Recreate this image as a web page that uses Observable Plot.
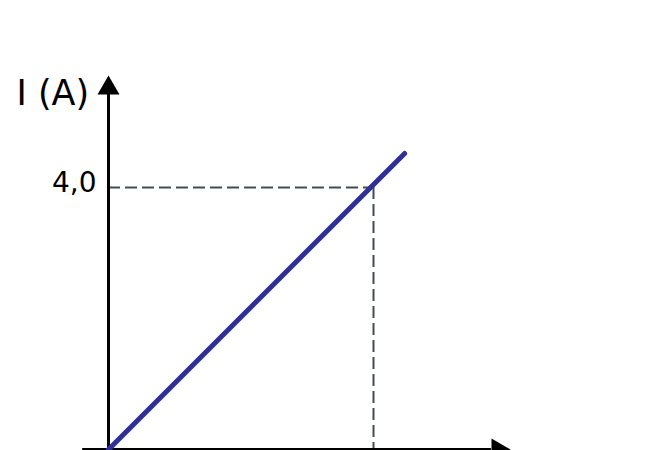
<!DOCTYPE html>
<html>
<head>
<meta charset="utf-8">
<script src="https://cdn.jsdelivr.net/npm/d3@7"></script>
<script src="https://cdn.jsdelivr.net/npm/@observablehq/plot@0.6"></script>
<style>
  html, body { margin: 0; padding: 0; background: #fff; overflow: hidden; }
  svg text { font-family: 'DejaVu Sans', sans-serif; }
</style>
</head>
<body>
<div id="chart"></div>
<script>
// ---- data ----
const lineX = [0, 4.47];          // x values of the I–U line
const lineY = [0, 4.52];          // current values (A)
const markedX = [4.0];            // x value of the dashed guide
const markedI = [4.0];            // current value of the dashed guide
const yTickLabels = ["4,0"];
const yAxisLabel = "I (A)";

// ---- axis extents (in data units) ----
const xAxisStart = -0.39, xAxisEnd = 5.78, xArrowAt = 5.877;
const yAxisStart = -0.2,  yAxisEnd = 5.42, yArrowAt = 5.517;

const lineData = lineX.map((x, i) => ({x, y: lineY[i]}));
const guides = markedX.map((x, i) => ({x, y: markedI[i], label: yTickLabels[i]}));

const axisColor = "#000";
const dashColor = "#424c55";
const lineColor = "#2e3094";

const chart = Plot.plot({
  width: 670,
  height: 450,
  style: {fontFamily: "'DejaVu Sans', sans-serif", background: "#fff"},
  x: {type: "linear", domain: [0, 8], range: [108, 638], axis: null},
  y: {type: "linear", domain: [0, 6], range: [449, 56], axis: null},
  marks: [
    // dashed guides
    Plot.ruleY(guides, {y: "y", x1: 0, x2: "x", stroke: dashColor, strokeWidth: 2, strokeDasharray: "12,5"}),
    Plot.ruleX(guides, {x: "x", y1: "y", y2: 0, stroke: dashColor, strokeWidth: 2, strokeDasharray: "12,5"}),
    // axes
    Plot.ruleY([0], {x1: xAxisStart, x2: xAxisEnd, stroke: axisColor, strokeWidth: 3}),
    Plot.ruleX([0], {y1: yAxisStart, y2: yAxisEnd, stroke: axisColor, strokeWidth: 3}),
    Plot.dot([{x: 0, y: yArrowAt}], {x: "x", y: "y", symbol: "triangle", r: 8.17, fill: axisColor, stroke: null}),
    Plot.dot([{x: xArrowAt, y: 0}], {x: "x", y: "y", symbol: "triangle", r: 8.17, rotate: 90, fill: axisColor, stroke: null}),
    // tick label
    Plot.text(guides, {x: 0, y: "y", text: "label", textAnchor: "end", dx: -12, dy: -4, fontSize: 28, fill: "#000"}),
    // axis label
    Plot.text([yAxisLabel], {x: 0, y: yAxisEnd, text: d => d, textAnchor: "start", dx: -92, dy: -1, fontSize: 35, fill: "#000"}),
    // data line
    Plot.line(lineData, {x: "x", y: "y", stroke: lineColor, strokeWidth: 5, strokeLinecap: "round"})
  ]
});
document.getElementById("chart").appendChild(chart);
</script>
</body>
</html>
